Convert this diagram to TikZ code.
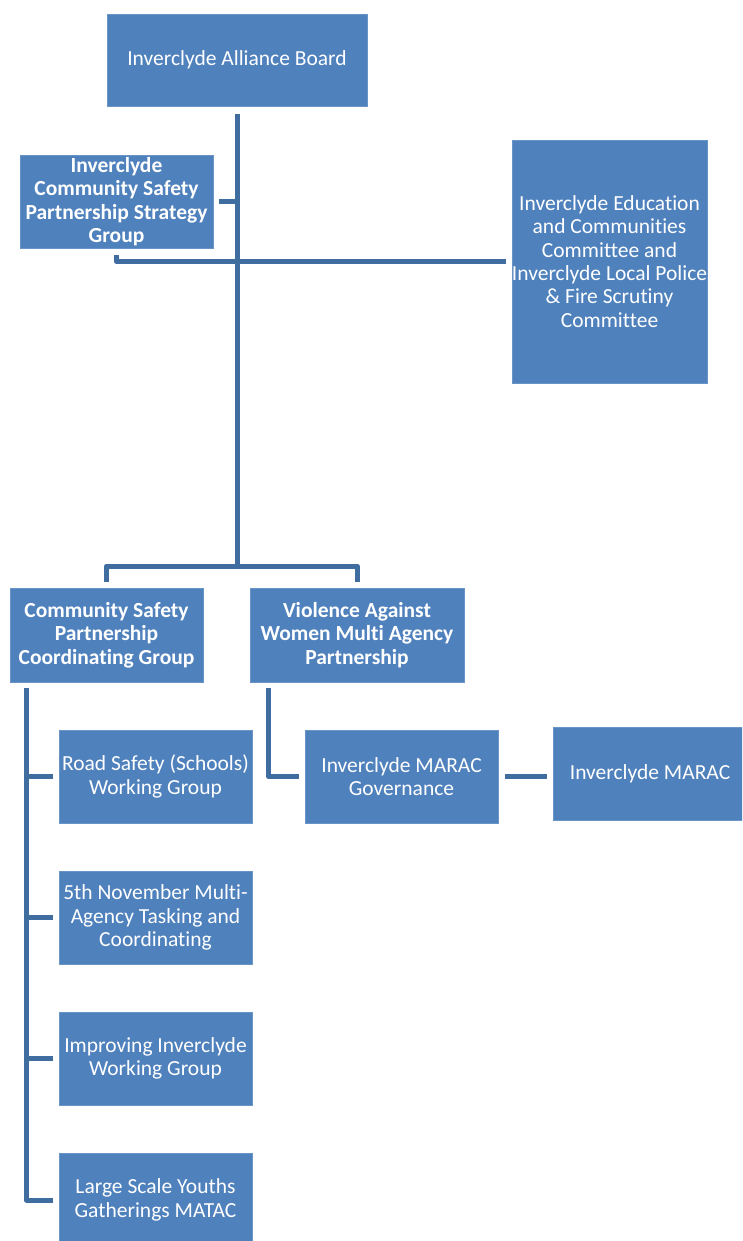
\documentclass[tikz,border=0pt]{standalone}
\usepackage{fontspec}
\setmainfont{Carlito}[Ligatures={NoCommon}]
\definecolor{boxblue}{HTML}{4F81BD}
\definecolor{lineblue}{HTML}{3F6D9F}
\begin{document}
\begin{tikzpicture}[x=1pt,y=-1pt,
  orgbox/.style={fill=boxblue,draw=boxblue!85!white,line width=0.8pt,text=white,align=center,
    inner sep=0pt,font=\fontsize{21.5}{23.4}\selectfont},
  boldbox/.style={orgbox,font=\fontsize{21.5}{23.4}\selectfont\bfseries},
  conn/.style={draw=lineblue,line width=5pt,line join=round}]
\useasboundingbox (0,0) rectangle (742,1241);
\clip (0,0) rectangle (742,1241);
\fill[white] (0,0) rectangle (742,1241);
% boxes
\node[orgbox,minimum width=260,minimum height=92] (board) at (237,60) {Inverclyde Alliance Board};
\node[boldbox,minimum width=193,minimum height=93] (strat) at (116.5,201.5) {Inverclyde\\Community Safety\\Partnership Strategy\\Group};
\node[orgbox,minimum width=193,minimum height=243] (edu) at (609.5,261.5) {Inverclyde Education\\and Communities\\Committee and\\Inverclyde Local Police\\\& Fire Scrutiny\\Committee};
\node[boldbox,minimum width=193,minimum height=94] (csp) at (106.5,635) {Community Safety\\Partnership\\Coordinating Group};
\node[boldbox,minimum width=214,minimum height=94] (vaw) at (357,635) {Violence Against\\Women Multi Agency\\Partnership};
\node[orgbox,minimum width=193,minimum height=93] (road) at (155.5,776.5) {Road Safety (Schools)\\Working Group};
\node[orgbox,minimum width=193,minimum height=93] (nov) at (155.5,917.5) {5th November Multi-\\Agency Tasking and\\Coordinating};
\node[orgbox,minimum width=193,minimum height=93] (imp) at (155.5,1058.5) {Improving Inverclyde\\Working Group};
\node[orgbox,minimum width=193,minimum height=94] (large) at (155.5,1200) {Large Scale Youths\\Gatherings MATAC};
\node[orgbox,minimum width=193,minimum height=93] (gov) at (401.5,776.5) {Inverclyde MARAC\\Governance};
\node[orgbox,minimum width=194,minimum height=93] (marac) at (650,773.5) {Inverclyde MARAC};
% connectors
\coordinate (j) at (237,566);
\draw[conn] ([yshift=-8pt]board.south) -- (j);
\draw[conn] ([yshift=6pt]csp.north) |- (j) -| ([yshift=6pt]vaw.north);
\draw[conn] ([xshift=6pt]strat.east) -- (strat.east -| j);
\draw[conn] ([yshift=-7pt]strat.south) |- ([xshift=-6pt]edu.west);
\coordinate (c) at ([xshift=17pt,yshift=-6pt]csp.south west);
\draw[conn] (c) |- ([xshift=-6pt]large.west);
\draw[conn] ([xshift=-6pt]road.west) -- (road.west -| c);
\draw[conn] ([xshift=-6pt]nov.west) -- (nov.west -| c);
\draw[conn] ([xshift=-6pt]imp.west) -- (imp.west -| c);
\draw[conn] ([xshift=19pt,yshift=-6pt]vaw.south west) |- ([xshift=-6pt]gov.west);
\draw[conn] ([xshift=7pt]gov.east) -- ([xshift=-6pt]gov.east -| marac.west);
\end{tikzpicture}
\end{document}
